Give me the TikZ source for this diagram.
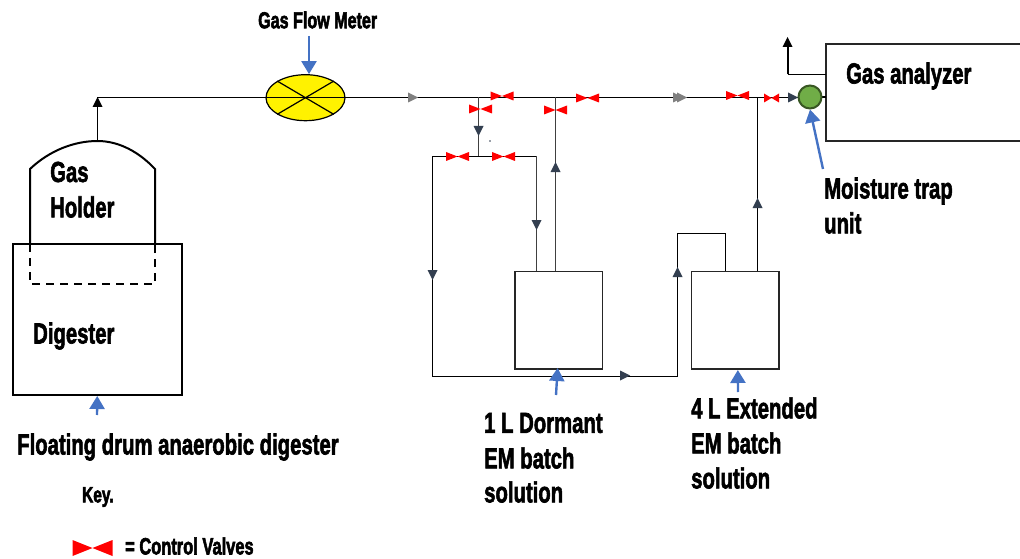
\documentclass[tikz,border=0pt]{standalone}
\usepackage{graphicx}
\usepackage{fontspec}
\setmainfont{Liberation Sans}
\newcommand{\cond}[1]{\scalebox{0.70}[1]{\special{pdf:code q 2 Tr 0.7 w}\bfseries #1\special{pdf:code Q}}}
\usetikzlibrary{arrows.meta,calc,positioning,shapes.geometric}
\definecolor{flowblue}{HTML}{4472C4}
\definecolor{tipdark}{HTML}{333F50}
\definecolor{trapgreen}{HTML}{70AD47}
\definecolor{trapedge}{HTML}{385723}
\tikzset{
  pipe/.style={draw=black,line width=1.2pt},
  pipemain/.style={draw=black,line width=1.4pt},
  pipethin/.style={draw=black!75,line width=1.5pt},
  vessel/.style={draw=black,line width=2pt},
  boxnode/.style={draw=black!85,line width=1.3pt,fill=white,inner sep=0pt,outer sep=0pt},
  label/.style={font=\bfseries\fontsize{29}{32}\selectfont,anchor=west,inner sep=0pt,align=left,text=black,yshift=-2pt},
  callout/.style={draw=flowblue,line width=2.4pt,-{Triangle[length=13pt,width=15pt]}},
  valvefill/.style={fill=red,draw=none},
}
% bow-tie valve: name, x, y, half width, half height
\newcommand{\valvemark}[5]{%
  \coordinate (#1) at (#2,#3);
  \fill[valvefill] ($(#1)+(-#4,-#5)$) -- ($(#1)+(#4,#5)$) -- ($(#1)+(#4,-#5)$) -- ($(#1)+(-#4,#5)$) -- cycle;}
% flow tip: colour, x, y, rotation
\newcommand{\flowtip}[4]{%
  \fill[#1,shift={(#2,#3)},rotate=#4] (5,0) -- (-5,5) -- (-5,-5) -- cycle;}
\begin{document}
\begin{tikzpicture}[x=1pt,y=-1pt]
\useasboundingbox (0,0) rectangle (1020,559);
% key coordinates
\coordinate (j1) at (478.5,97.5);
\coordinate (j2) at (555.5,97.5);
\coordinate (j3) at (757.5,97.5);
\coordinate (bend0) at (97.5,97.5);
\coordinate (top) at (97.5,141);
\coordinate (tee) at (478.5,156.5);
\coordinate (tl) at (432.5,156.5);
\coordinate (tr) at (536.5,156.5);
\coordinate (bl) at (432.5,376.5);
\coordinate (br) at (677.5,376.5);
\coordinate (o1) at (677.5,233.5);
\coordinate (o2) at (725.5,233.5);
\coordinate (ex1) at (787.5,74.5);
\coordinate (ex2) at (787.5,42);
% vessels
\node[boxnode,vessel,minimum width=169.5pt,minimum height=151pt,anchor=north west] (digester) at (12.5,244) {};
\node[boxnode,minimum width=87.3pt,minimum height=97.7pt,anchor=north west] (box1) at (515,271.3) {};
\node[boxnode,minimum width=87.3pt,minimum height=97.7pt,anchor=north west] (box2) at (691.7,271.3) {};
\node[boxnode,minimum width=210pt,minimum height=97pt,anchor=north west] (analyzer) at (826,44) {};
% gas holder
\draw[vessel] (30,244) -- (30,169) .. controls (50,150) and (75,141) .. (top) .. controls (120,141) and (140,153) .. (155,169) -- (155,244);
\draw[vessel,dash pattern=on 8pt off 6pt] (30,244) -- (30,284) -- (155,284) -- (155,244);
% piping
\coordinate (mtrap) at (810,97);
\draw[pipe] (top) -- (bend0);
\draw[pipemain] (bend0) -- (bend0 -| mtrap);
\draw[pipethin] (j1) -- (tee);
\draw[pipe] (tl) -- (tr);
\draw[pipe] (tl) -- (bl);
\draw[pipe] (bl) -- (br) -- (o1) -- (o2) -- (o2 |- box2.north);
\draw[pipethin] (tr) -- (tr |- box1.north);
\draw[pipethin] (j2) -- (j2 |- box1.north);
\draw[pipe] (j3) -- (j3 |- box2.north);
\draw[pipe] (mtrap) -- (analyzer.west |- mtrap);
\draw[pipe] (analyzer.west |- ex1) -- (ex1);
\draw[draw=black,line width=2pt] (ex1) -- (ex2);
\fill[black] (787.5,37) -- (792.5,47) -- (782.5,47) -- cycle;
\fill[black] (97.5,97) -- (102.5,107) -- (92.5,107) -- cycle;
% meter
\node[draw=black,fill=yellow,ellipse,line width=1.2pt,minimum width=79pt,minimum height=46pt,inner sep=0pt] (meter) at (305.5,97.7) {};
\draw[line width=1.2pt] (meter.west) -- (meter.east);
\draw[line width=1.2pt] (meter.north west) -- (meter.south east);
\draw[line width=1.2pt] (meter.south west) -- (meter.north east);
% moisture trap
\node[circle,fill=trapgreen,draw=trapedge,line width=2pt,minimum size=23pt,inner sep=0pt] (trap) at (mtrap) {};
% flow tips
\flowtip{black!50}{413}{97.5}{0}
\flowtip{black!50}{678}{97.5}{0}
\flowtip{black!50}{682}{97.5}{0}
\flowtip{tipdark}{793}{97.5}{0}
\flowtip{tipdark}{478.5}{131}{-90}
\flowtip{tipdark}{536.5}{225}{-90}
\flowtip{tipdark}{432.5}{275}{-90}
\flowtip{tipdark}{555.5}{167}{90}
\flowtip{tipdark}{757.5}{203}{90}
\flowtip{tipdark}{677.5}{272}{90}
\flowtip{tipdark}{625}{375.5}{0}
\fill[tipdark] (490,141) circle (0.9);
% valves
\valvemark{v1}{502}{96}{11.5}{4.5}
\valvemark{v2}{480.5}{109}{11.5}{4.5}
\valvemark{v3}{555.5}{110}{11.5}{4.5}
\valvemark{v4}{587.5}{98}{11.5}{4.5}
\valvemark{v5}{457.5}{156.5}{11.5}{4.5}
\valvemark{v6}{503.5}{156.5}{11.5}{4.5}
\valvemark{v7}{737.5}{95.5}{11.5}{4.5}
\valvemark{v8}{771.5}{98}{7.5}{4.5}
\valvemark{vkey}{92.5}{548}{20}{8}
% callouts
\coordinate (cm) at (309,36);
\draw[callout] (cm) -- (meter.north -| cm);
\coordinate (ct) at (823,169);
\draw[callout] (ct) -- (trap.south);
\coordinate (c1) at (556,395);
\draw[callout] (c1) -- ($(box1.south)+(-1,-1)$);
\coordinate (c2) at (738,392);
\draw[callout] (c2) -- ($(box2.south)+(2.5,1)$);
\coordinate (c3) at (97,415);
\draw[callout] (c3) -- ($(digester.south)+(0,1)$);
% labels
\node[label,font=\bfseries\fontsize{23}{26}\selectfont,yshift=3pt] (tmeter) at (258,21) {\cond{Gas Flow Meter}};
\node[label] (tanalyzer) at (846,74) {\cond{Gas analyzer}};
\node[label] (ttrap) at (824,189) {\cond{Moisture trap}};
\node[label] (ttrap2) at (824,221) {\cond{unit}};
\node[label] (tgas) at (50,170) {\cond{Gas}};
\node[label] (thold) at (50,205) {\cond{Holder}};
\node[label] (tdig) at (33,334) {\cond{Digester}};
\node[label] (tfloat) at (17,445) {\cond{Floating drum anaerobic digester}};
\node[label] (t1a) at (484,421) {\cond{1 L Dormant}};
\node[label] (t1b) at (484,456) {\cond{EM batch}};
\node[label] (t1c) at (484,490) {\cond{solution}};
\node[label] (t2a) at (691,406) {\cond{4 L Extended}};
\node[label] (t2b) at (691,441) {\cond{EM batch}};
\node[label] (t2c) at (691,476) {\cond{solution}};
\node[label,font=\bfseries\fontsize{22}{25}\selectfont] (tkey) at (82,495) {\cond{Key.}};
\node[label,font=\bfseries\fontsize{23.5}{26}\selectfont] (tvalves) at (125,544) {\cond{= Control Valves}};
\end{tikzpicture}
\end{document}
